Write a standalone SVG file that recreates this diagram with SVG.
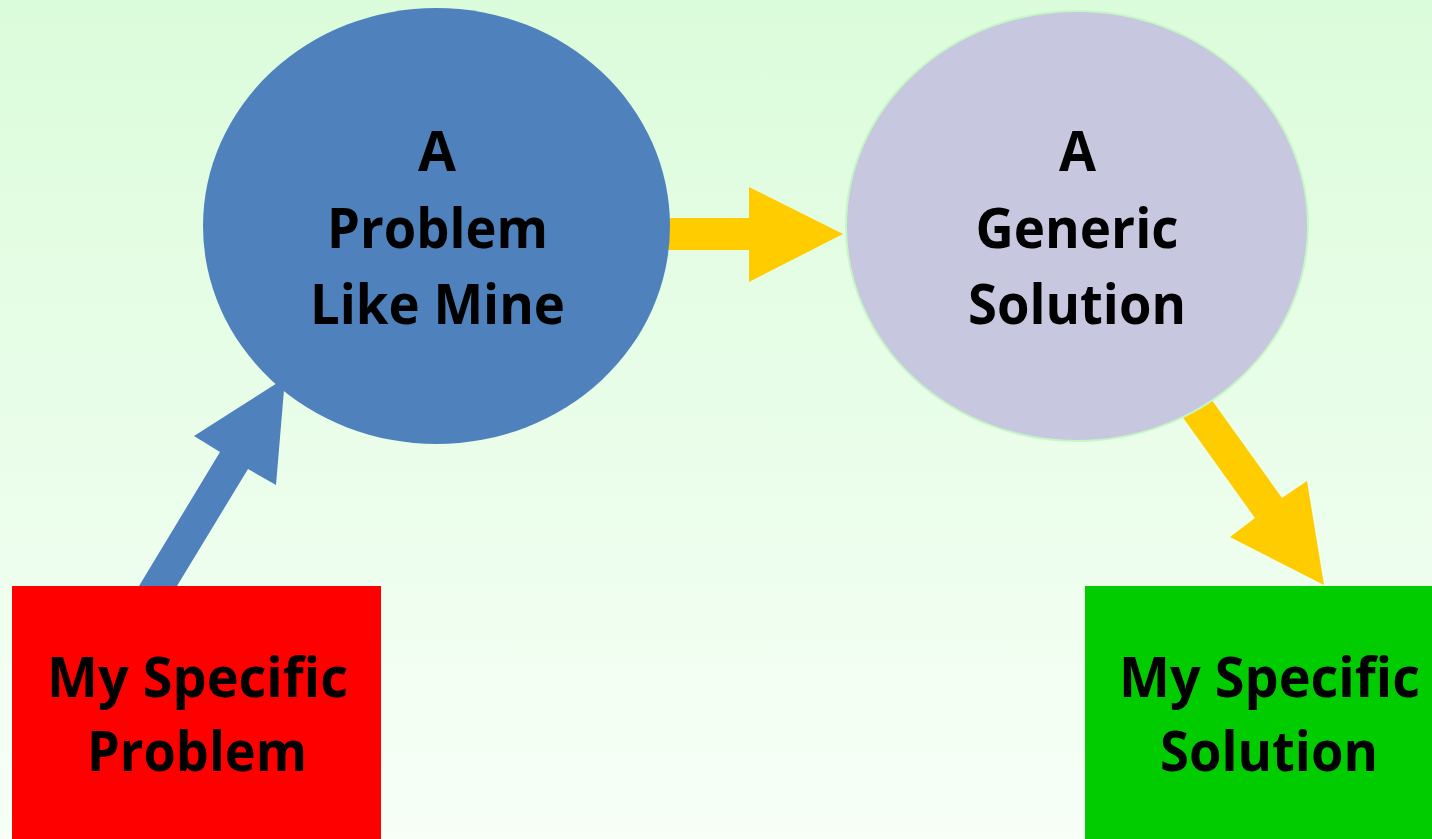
<svg xmlns="http://www.w3.org/2000/svg" width="1432" height="839" viewBox="0 0 1432 839">
  <defs>
    <linearGradient id="bg" x1="0" y1="0" x2="0" y2="1">
      <stop offset="0" stop-color="#dbfcdb"/>
      <stop offset="1" stop-color="#f7fff7"/>
    </linearGradient>
  </defs>
  <style>
    .label { font-family: "Open Sans", "Liberation Sans", sans-serif; font-weight: bold; font-size: 56px; fill: #000; text-anchor: middle; }
    .blue { fill: #4f81bd; }
    .gold { fill: #ffcc00; }
  </style>

  <rect width="1432" height="839" fill="url(#bg)"/>

  <!-- connectors -->
  <g id="connectors">
    <!-- specific problem up to the similar problem -->
    <polygon class="blue" points="139,586 177,586 248,469 276,485 285,378 194,436 220,452"/>
    <!-- similar problem across to the generic solution -->
    <polygon class="gold" points="660,218 749,218 749,187 843,234 749,282 749,250 660,250"/>
    <!-- generic solution down to the specific solution -->
    <polygon class="gold" points="1174,405 1201,385 1282,498 1307,481 1324,585 1230,537 1255,518"/>
  </g>

  <g id="node-problem-like-mine">
    <ellipse cx="436.5" cy="226" rx="233.5" ry="218" fill="#4f81bd"/>
    <text class="label" x="437" y="171" textLength="38" lengthAdjust="spacingAndGlyphs">A</text>
    <text class="label" x="437.5" y="248" textLength="221" lengthAdjust="spacingAndGlyphs">Problem</text>
    <text class="label" x="437.5" y="324" textLength="255" lengthAdjust="spacingAndGlyphs">Like Mine</text>
  </g>

  <g id="node-generic-solution">
    <ellipse cx="1077" cy="226" rx="231" ry="215" fill="#c7c7e0" stroke="#c6f6c6" stroke-width="2"/>
    <text class="label" x="1077.5" y="171" textLength="37" lengthAdjust="spacingAndGlyphs">A</text>
    <text class="label" x="1077" y="248" textLength="203" lengthAdjust="spacingAndGlyphs">Generic</text>
    <text class="label" x="1077" y="324" textLength="218" lengthAdjust="spacingAndGlyphs">Solution</text>
  </g>

  <g id="node-my-specific-problem">
    <rect x="12" y="586" width="369" height="253" fill="#ff0000"/>
    <text class="label" x="197.5" y="697" textLength="301" lengthAdjust="spacingAndGlyphs">My Specific</text>
    <text class="label" x="197" y="771" textLength="220" lengthAdjust="spacingAndGlyphs">Problem</text>
  </g>

  <g id="node-my-specific-solution">
    <rect x="1085" y="586" width="347" height="253" fill="#00cc00"/>
    <text class="label" x="1269.5" y="697" textLength="301" lengthAdjust="spacingAndGlyphs">My Specific</text>
    <text class="label" x="1269" y="771" textLength="218" lengthAdjust="spacingAndGlyphs">Solution</text>
  </g>
</svg>
